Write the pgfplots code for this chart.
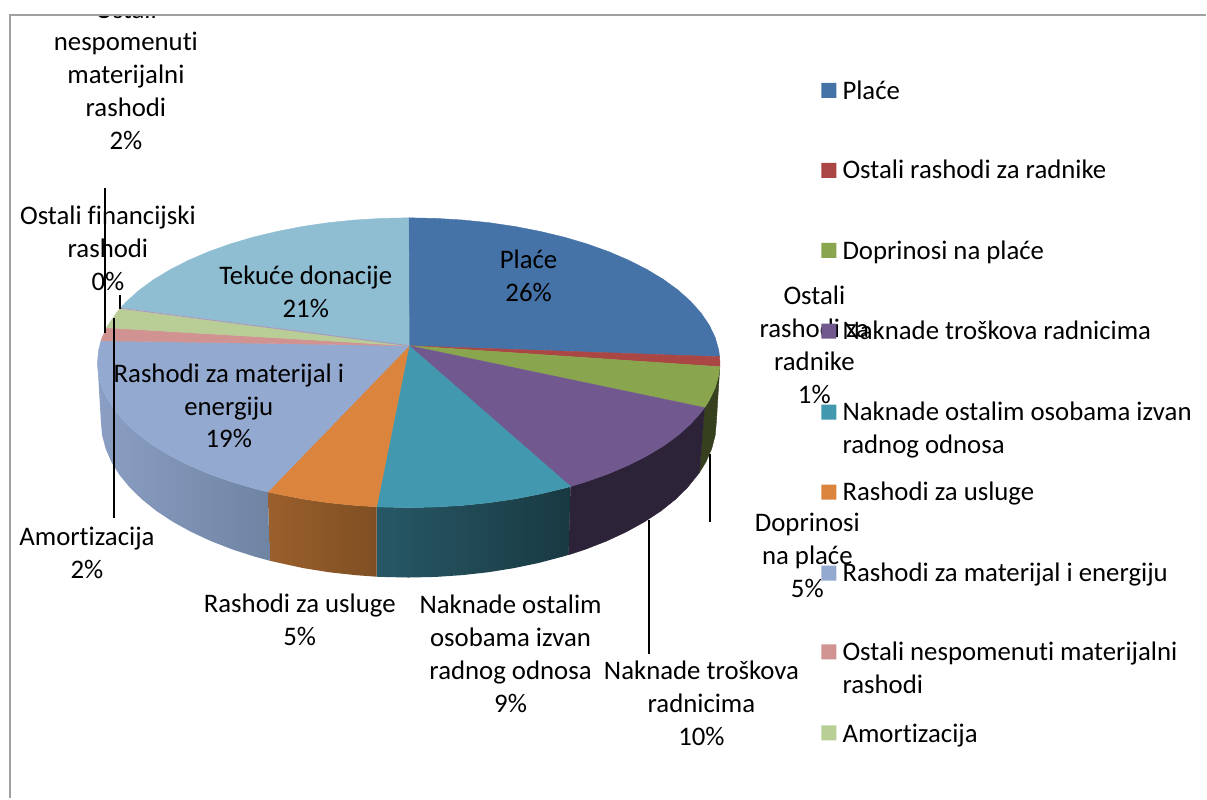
\documentclass[border=0pt]{standalone}
\usepackage{pgfplots}
\pgfplotsset{compat=1.18}
\usepackage{fontspec}
\setmainfont{Carlito}[Ligatures=NoCommon]
\definecolor{cBlue}{HTML}{4572A7}
\definecolor{cRed}{HTML}{AA4643}
\definecolor{cGreen}{HTML}{89A54E}
\definecolor{cPurple}{HTML}{71588F}
\definecolor{cTeal}{HTML}{4198AF}
\definecolor{cOrange}{HTML}{DB843D}
\definecolor{cPeri}{HTML}{93A9CF}
\definecolor{cPink}{HTML}{D19392}
\definecolor{cLime}{HTML}{B9CD96}
\definecolor{cSliver}{HTML}{A99BBD}
\definecolor{cSky}{HTML}{8FBDD2}
\definecolor{cFrame}{HTML}{A0A0A0}
\definecolor{cSide1}{HTML}{36401E}
\definecolor{cSide2}{HTML}{2D2338}
\definecolor{cTealA}{HTML}{275866}
\definecolor{cTealB}{HTML}{193942}
\definecolor{cOrA}{HTML}{9A5F2C}
\definecolor{cOrB}{HTML}{7F4F23}
\definecolor{cPeA}{HTML}{8B9FC4}
\definecolor{cPeB}{HTML}{6F83A3}
\tikzset{lab/.style={font=\fontsize{26.8}{33}\selectfont,align=center,inner sep=0pt,text=black,execute at begin node=\strut,execute at end node=\strut},
 leg/.style={font=\fontsize{26.8}{33}\selectfont,align=left,anchor=west,inner sep=0pt,text=black,execute at begin node=\strut,execute at end node=\strut},
 w/.style={fill=#1,draw=#1,line width=0.4pt}}
\begin{document}
\begin{tikzpicture}
\begin{axis}[width=1207pt,height=799pt,scale only axis,hide axis,clip=false,
 xmin=0,xmax=1207,ymin=0,ymax=799,y dir=reverse,enlargelimits=false]
% background
\addplot[fill=white,draw=none] coordinates {(0,0)(1207,0)(1207,799)(0,799)(0,0)};
% sides
\addplot[w=cSide1] coordinates {(720.4,367)(719.3,375.6)(715.8,388.2)(709.9,400.5)(705.2,408)(700,473)(706.5,462.4)(712.3,449.1)(715.8,435.6)(717,422)(720.4,367)};
\addplot[w=cSide2] coordinates {(705.2,408)(701.7,412.6)(691.3,424.3)(678.8,435.5)(664.2,446.2)(647.6,456.2)(629.3,465.5)(609.2,474.1)(587.7,481.8)(571,486.9)(569,555.3)(585.7,549.8)(607,541.5)(626.8,532.3)(644.9,522.3)(661.3,511.5)(675.7,500)(688.1,487.9)(700,473)(705.2,408)};
\addplot[draw=none,left color=cTealA,right color=cTealB] coordinates {(571,486.9)(564.8,488.6)(540.6,494.4)(515.5,499.3)(489.6,503.1)(463.1,505.8)(436.2,507.4)(409,508)(381.8,507.4)(377,507.2)(377,577.2)(382.1,577.4)(409,578)(435.9,577.4)(462.5,575.6)(488.7,572.7)(514.3,568.6)(539.2,563.4)(563,557.1)(569,555.3)(571,486.9)};
\addplot[draw=none,left color=cOrA,right color=cOrB] coordinates {(377,507.2)(354.9,505.8)(328.4,503.1)(302.5,499.3)(277.4,494.4)(268,492.3)(270,561.2)(279.8,563.4)(303.7,568.6)(329.3,572.7)(355.5,575.6)(377,577.2)(377,507.2)};
\addplot[draw=none,left color=cPeA,right color=cPeB] coordinates {(268,492.3)(253.2,488.6)(230.3,481.8)(208.8,474.1)(188.7,465.5)(170.4,456.2)(153.8,446.2)(139.2,435.5)(126.7,424.3)(116.3,412.6)(108.1,400.5)(102.2,388.2)(98.7,375.6)(97.5,363)(101,422)(102.2,435.6)(105.7,449.1)(111.5,462.4)(119.6,475.4)(129.9,487.9)(142.3,500)(156.7,511.5)(173.1,522.3)(191.2,532.3)(211,541.5)(232.3,549.8)(255,557.1)(270,561.2)(268,492.3)};
% top wedges
\addplot[w=cBlue] coordinates {(409.5,346)(409,218)(436.2,218.6)(463.1,220.2)(489.6,222.9)(515.5,226.7)(540.6,231.6)(564.8,237.4)(587.7,244.2)(609.2,251.9)(629.3,260.5)(647.6,269.8)(664.2,279.8)(678.8,290.5)(691.3,301.7)(701.7,313.4)(709.9,325.5)(715.8,337.8)(719.3,350.4)(720.2,357)(409.5,346)};
\addplot[w=cRed] coordinates {(409.5,346)(720.2,357)(720.5,363)(720.4,367)(409.5,346)};
\addplot[w=cGreen] coordinates {(409.5,346)(720.4,367)(719.3,375.6)(715.8,388.2)(709.9,400.5)(705.2,408)(409.5,346)};
\addplot[w=cPurple] coordinates {(409.5,346)(705.2,408)(701.7,412.6)(691.3,424.3)(678.8,435.5)(664.2,446.2)(647.6,456.2)(629.3,465.5)(609.2,474.1)(587.7,481.8)(571,486.9)(409.5,346)};
\addplot[w=cTeal] coordinates {(409.5,346)(571,486.9)(564.8,488.6)(540.6,494.4)(515.5,499.3)(489.6,503.1)(463.1,505.8)(436.2,507.4)(409,508)(381.8,507.4)(377,507.2)(409.5,346)};
\addplot[w=cOrange] coordinates {(409.5,346)(377,507.2)(354.9,505.8)(328.4,503.1)(302.5,499.3)(277.4,494.4)(268,492.3)(409.5,346)};
\addplot[w=cPeri] coordinates {(409.5,346)(268,492.3)(253.2,488.6)(230.3,481.8)(208.8,474.1)(188.7,465.5)(170.4,456.2)(153.8,446.2)(139.2,435.5)(126.7,424.3)(116.3,412.6)(108.1,400.5)(102.2,388.2)(98.7,375.6)(97.5,363)(98.7,350.4)(101.1,341)(409.5,346)};
\addplot[w=cPink] coordinates {(409.5,346)(101.1,341)(102.2,337.8)(106.7,328)(409.5,346)};
\addplot[w=cLime] coordinates {(409.5,346)(106.7,328)(108.1,325.5)(116.3,313.4)(120,309)(409.5,346)};
\addplot[w=cSky] coordinates {(409.5,346)(121,308)(126.7,301.7)(139.2,290.5)(153.8,279.8)(170.4,269.8)(188.7,260.5)(208.8,251.9)(230.3,244.2)(253.2,237.4)(277.4,231.6)(302.5,226.7)(328.4,222.9)(354.9,220.2)(381.8,218.6)(409,218)(409.5,346)};
\addplot[draw=cSliver,line width=1pt] coordinates {(409.5,346)(120.5,308.5)};
% leader lines and data labels
\node[lab,overlay] at (axis cs:126,12) {Ostali};
\node[lab] at (axis cs:126,96) {nespomenuti\\materijalni\\rashodi\\2\%};
\node[lab] at (axis cs:108,253) {Ostali financijski\\rashodi\\0\%};
\node[lab] at (axis cs:529,280.5) {Plaće\\26\%};
\node[lab] at (axis cs:306,297) {Tekuće donacije\\21\%};
\node[lab] at (axis cs:229,411) {Rashodi za materijal i\\energiju\\19\%};
\node[lab] at (axis cs:815,350) {Ostali\\rashodi za\\radnike\\1\%};
\node[lab] at (axis cs:808,561) {Doprinosi\\na plaće\\5\%};
\node[lab] at (axis cs:702,709) {Naknade troškova\\radnicima\\10\%};
\node[lab] at (axis cs:511,659) {Naknade ostalim\\osobama izvan\\radnog odnosa\\9\%};
\node[lab] at (axis cs:300,625) {Rashodi za usluge\\5\%};
\node[lab] at (axis cs:87,558) {Amortizacija\\2\%};
\addplot[black,line width=2pt] coordinates {(104.7,188)(104.7,333)};
\addplot[black,line width=1.5pt] coordinates {(120.3,295)(120.3,309)};
\addplot[black,line width=2pt] coordinates {(113.7,318)(113.7,518)};
\addplot[black,line width=2pt] coordinates {(710.8,454)(710.8,522)};
\addplot[black,line width=2pt] coordinates {(650,520)(650,655)};
% legend
\addplot[fill=cBlue,draw=none] coordinates {(822,83)(837,83)(837,98)(822,98)(822,83)};
\addplot[fill=cRed,draw=none] coordinates {(822,163)(837,163)(837,178)(822,178)(822,163)};
\addplot[fill=cGreen,draw=none] coordinates {(822,243)(837,243)(837,258)(822,258)(822,243)};
\addplot[fill=cPurple,draw=none] coordinates {(822,324)(837,324)(837,339)(822,339)(822,324)};
\addplot[fill=cTeal,draw=none] coordinates {(822,405)(837,405)(837,420)(822,420)(822,405)};
\addplot[fill=cOrange,draw=none] coordinates {(822,485)(837,485)(837,500)(822,500)(822,485)};
\addplot[fill=cPeri,draw=none] coordinates {(822,566)(837,566)(837,581)(822,581)(822,566)};
\addplot[fill=cPink,draw=none] coordinates {(822,645)(837,645)(837,660)(822,660)(822,645)};
\addplot[fill=cLime,draw=none] coordinates {(822,726)(837,726)(837,741)(822,741)(822,726)};
\node[leg] at (axis cs:843,92.5) {Plaće};
\node[leg] at (axis cs:843,172.5) {Ostali rashodi za radnike};
\node[leg] at (axis cs:843,253.5) {Doprinosi na plaće};
\node[leg] at (axis cs:843,333.5) {Naknade troškova radnicima};
\node[leg] at (axis cs:843,433) {Naknade ostalim osobama izvan\\radnog odnosa};
\node[leg] at (axis cs:843,494.5) {Rashodi za usluge};
\node[leg] at (axis cs:843,575.5) {Rashodi za materijal i energiju};
\node[leg] at (axis cs:843,673.5) {Ostali nespomenuti materijalni\\rashodi};
\node[leg] at (axis cs:843,737) {Amortizacija};
% frame
\addplot[fill=white,draw=none] coordinates {(0,0)(1207,0)(1207,14)(0,14)(0,0)};
\addplot[cFrame,line width=2pt] coordinates {(10.5,799)(10.5,15.5)(1207,15.5)};
\end{axis}
\end{tikzpicture}
\end{document}
